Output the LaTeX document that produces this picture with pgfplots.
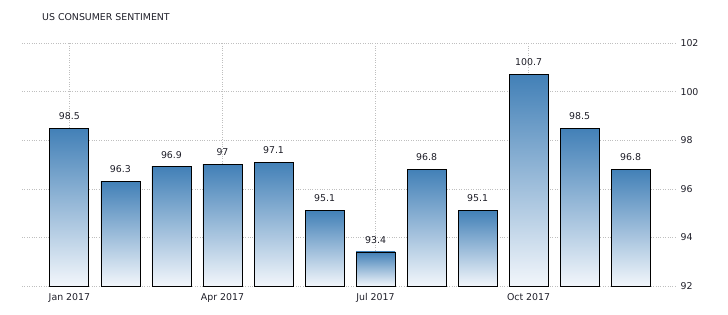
\documentclass[border=0pt]{standalone}
\usepackage{pgfplots}
\pgfplotsset{compat=1.18}
\usepackage{fontspec}
\setmainfont{DejaVu Sans}
\definecolor{bartop}{RGB}{66,128,183}
\definecolor{barbot}{RGB}{242,246,251}
\definecolor{txt}{RGB}{30,30,40}
\begin{document}
\begin{tikzpicture}
\path[use as bounding box] (0,0) rectangle (728pt,315pt);
\node[anchor=west, text=txt, font=\fontsize{9.4}{10}\selectfont, inner sep=0pt] at (42pt,298pt) {US CONSUMER SENTIMENT};
\begin{axis}[
  at={(22pt,29pt)}, anchor=south west,
  scale only axis, width=653pt, height=243pt,
  xmin=-0.93, xmax=11.87, ymin=92, ymax=102,
  xtick={0,3,6,9},
  xticklabels={Jan 2017, Apr 2017, Jul 2017, Oct 2017},
  ytick={92,94,...,102},
  yticklabel pos=right,
  axis line style={draw=none},
  major tick length=0pt,
  xmajorgrids, ymajorgrids,
  grid style={dotted, black!25},
  /pgf/number format/assume math mode=true,
  tick label style={font=\fontsize{9.4}{10}\selectfont, text=txt},
  yticklabel style={anchor=west, xshift=2pt},
  xticklabel style={yshift=-4pt},
  nodes near coords,
  every node near coord/.append style={font=\fontsize{9.4}{10}\selectfont, text=txt, yshift=5pt},
  clip=false,
  mybar/.style={ybar, bar width=39pt, bar shift=0pt, draw=black, line width=0.9pt,
    top color=bartop, bottom color=barbot, mark=none},
]
\addplot[mybar] coordinates {(0,98.5)};
\addplot[mybar] coordinates {(1,96.3)};
\addplot[mybar] coordinates {(2,96.9)};
\addplot[mybar] coordinates {(3,97)};
\addplot[mybar] coordinates {(4,97.1)};
\addplot[mybar] coordinates {(5,95.1)};
\addplot[mybar] coordinates {(6,93.4)};
\addplot[mybar] coordinates {(7,96.8)};
\addplot[mybar] coordinates {(8,95.1)};
\addplot[mybar] coordinates {(9,100.7)};
\addplot[mybar] coordinates {(10,98.5)};
\addplot[mybar] coordinates {(11,96.8)};
\end{axis}
\end{tikzpicture}
\end{document}
